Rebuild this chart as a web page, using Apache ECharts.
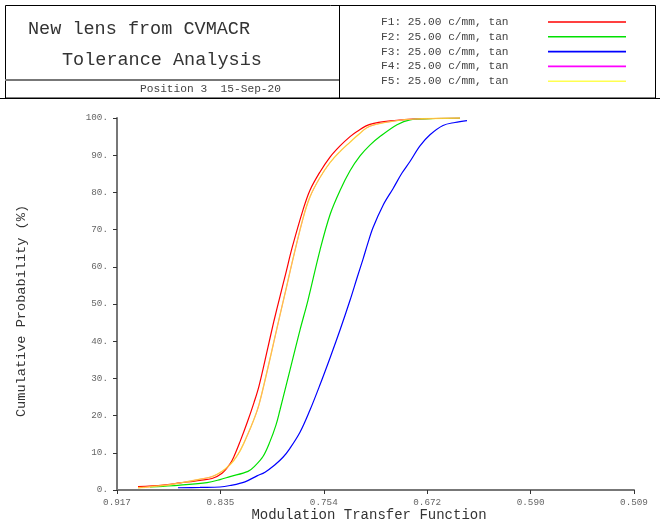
<!DOCTYPE html>
<html>
<head>
<meta charset="utf-8">
<script src="https://cdn.jsdelivr.net/npm/echarts@6/dist/echarts.min.js"></script>
<style>
html,body{margin:0;padding:0;background:#fff;}
#chart{width:660px;height:525px;}
</style>
</head>
<body>
<div id="chart"></div>
<script>
// ---- data (MTF value, cumulative probability %) ----
var seriesNames = ['F1: 25.00 c/mm, tan','F2: 25.00 c/mm, tan','F3: 25.00 c/mm, tan','F4: 25.00 c/mm, tan','F5: 25.00 c/mm, tan'];
var seriesColors = ['#ff0000','#00e000','#0000ff','#ff00ff','#ffff00'];

var f1 = [[0.9004,0.9],[0.8807,1.3],[0.8673,1.9],[0.8515,2.6],[0.8420,3.1],[0.8341,4.5],[0.8278,7.0],[0.8247,9.0],[0.8199,13],[0.8144,18],[0.8089,23.5],[0.8049,28],[0.7978,38.5],[0.7931,45.5],[0.7884,52],[0.7836,58.5],[0.7789,65],[0.7702,75.3],[0.7647,80.6],[0.7568,85.5],[0.7489,89.5],[0.7410,92.5],[0.7331,95],[0.7276,96.4],[0.7174,98.3],[0.6960,99.4],[0.6834,99.7],[0.6463,100]];
var f2 = [[0.8910,0.8],[0.8807,1.0],[0.8673,1.3],[0.8460,2.0],[0.8357,2.8],[0.8278,3.6],[0.8136,5.0],[0.8081,6.5],[0.8018,9.0],[0.7963,13],[0.7915,17.5],[0.7884,21.5],[0.7836,28],[0.7781,35.5],[0.7726,43],[0.7663,51],[0.7568,64.5],[0.7489,74],[0.7410,80.5],[0.7331,85.8],[0.7252,89.8],[0.7174,92.7],[0.7095,95],[0.6960,98.2],[0.6858,99.5],[0.6700,99.8],[0.6463,100]];
var f3 = [[0.8689,0.6],[0.8515,0.7],[0.8357,0.8],[0.8278,1.2],[0.8160,2.2],[0.8065,3.8],[0.8002,4.8],[0.7923,6.8],[0.7860,8.8],[0.7805,11.2],[0.7726,15.5],[0.7647,21.5],[0.7568,28.3],[0.7489,35.5],[0.7410,43],[0.7331,51],[0.7276,57],[0.7229,62],[0.7189,66.5],[0.7150,70.5],[0.7071,76.5],[0.6992,81],[0.6921,85.2],[0.6858,88.3],[0.6779,92.5],[0.6700,95.5],[0.6597,98],[0.6503,98.8],[0.6408,99.3]];
var f4 = [[0.9004,0.6],[0.8807,1.2],[0.8673,1.9],[0.8515,2.9],[0.8420,3.6],[0.8341,5.0],[0.8278,6.8],[0.8247,8.0],[0.8199,10.5],[0.8144,14.5],[0.8089,19],[0.8049,23],[0.7978,33],[0.7931,40],[0.7884,47],[0.7836,54],[0.7789,61],[0.7702,73],[0.7647,78.8],[0.7568,84],[0.7489,88],[0.7410,91],[0.7331,93.5],[0.7276,95.2],[0.7174,97.8],[0.6960,99.3],[0.6834,99.7],[0.6463,100]];
var f5 = [[0.9004,0.6],[0.8807,1.2],[0.8673,1.9],[0.8515,2.9],[0.8420,3.6],[0.8341,5.0],[0.8278,6.8],[0.8247,8.0],[0.8199,10.5],[0.8144,14.5],[0.8089,19],[0.8049,23],[0.7978,33],[0.7931,40],[0.7884,47],[0.7836,54],[0.7789,61],[0.7702,73],[0.7647,78.8],[0.7568,84],[0.7489,88],[0.7410,91],[0.7331,93.5],[0.7276,95.2],[0.7174,97.8],[0.6960,99.3],[0.6834,99.7],[0.6463,100]];

var xTickValues = [0.917,0.8354,0.7538,0.6722,0.5906,0.509];
var xTickLabels = ['0.917','0.835','0.754','0.672','0.590','0.509'];
var yTickLabels = ['0.','10.','20.','30.','40.','50.','60.','70.','80.','90.','100.'];

var titleLine1 = 'New lens from CVMACR';
var titleLine2 = 'Tolerance Analysis';
var subTitle = 'Position 3  15-Sep-20';
var xName = 'Modulation Transfer Function';
var yName = 'Cumulative Probability (%)';

var FONT = '"Liberation Mono","DejaVu Sans Mono",monospace';
var chart = echarts.init(document.getElementById('chart'), null, {renderer:'canvas'});

var allData = [f1,f2,f3,f4,f5];
var lineWidths = [1.2,1.2,1.2,1.0,1.4];
var lineOpac = [1,1,1,1,0.72];
var series = allData.map(function(d,i){
  return {
    name: seriesNames[i], type:'line', data:d, showSymbol:false, symbol:'none',
    smooth:0.35, animation:false,
    lineStyle:{color:seriesColors[i], width:lineWidths[i], opacity:lineOpac[i]},
    z: 2 + i
  };
});

var graphics = [
  {type:'rect', shape:{x:5.5,y:5.5,width:650,height:92.5}, style:{fill:null, stroke:'#000', lineWidth:1}, silent:true},
  {type:'line', shape:{x1:0,y1:98.5,x2:660,y2:98.5}, style:{stroke:'#000', lineWidth:1}, silent:true},
  {type:'line', shape:{x1:339.5,y1:5,x2:339.5,y2:98}, style:{stroke:'#000', lineWidth:1}, silent:true},
  {type:'line', shape:{x1:5,y1:80,x2:339,y2:80}, style:{stroke:'#777', lineWidth:2}, silent:true},
  {type:'text', x:28, y:29, style:{text:titleLine1, font:'18.5px '+FONT, fill:'#333', textVerticalAlign:'middle'}, silent:true},
  {type:'text', x:62, y:60, style:{text:titleLine2, font:'18.5px '+FONT, fill:'#333', textVerticalAlign:'middle'}, silent:true},
  {type:'text', x:140, y:89, style:{text:subTitle, font:'11.2px '+FONT, fill:'#444', textVerticalAlign:'middle'}, silent:true},
  {type:'text', x:369, y:515, style:{text:xName, font:'14px '+FONT, fill:'#333', textAlign:'center', textVerticalAlign:'middle'}, silent:true},
  {type:'text', x:21, y:311, rotation:Math.PI/2, style:{text:yName, font:'13.6px '+FONT, fill:'#333', textAlign:'center', textVerticalAlign:'middle'}, silent:true}
];
var legY = [22, 36.8, 51.6, 66.4, 81.2];
seriesNames.forEach(function(n,i){
  graphics.push({type:'text', x:381, y:legY[i], style:{text:n, font:'11.2px '+FONT, fill:'#444', textVerticalAlign:'middle'}, silent:true});
  graphics.push({type:'line', shape:{x1:548,y1:legY[i],x2:626,y2:legY[i]}, style:{stroke:(i===4?'#ffff50':seriesColors[i]), lineWidth:1.6}, silent:true});
});

var option = {
  animation:false,
  backgroundColor:'#fff',
  grid:{left:117, right:26, top:118, bottom:35, containLabel:false},
  xAxis:{
    type:'value', inverse:true, min:0.509, max:0.917, interval:0.0816,
    axisLine:{show:true, onZero:false, lineStyle:{color:'#777', width:2}},
    axisTick:{show:true, length:4, lineStyle:{color:'#333', width:1}},
    axisLabel:{fontFamily:FONT, fontSize:9.3, color:'#666', margin:8,
      formatter:function(v){
        for (var k=0;k<xTickValues.length;k++){ if (Math.abs(v-xTickValues[k])<0.002) return xTickLabels[k]; }
        return '';
      }},
    splitLine:{show:false}
  },
  yAxis:{
    type:'value', min:0, max:100, interval:10,
    axisLine:{show:true, lineStyle:{color:'#777', width:2}},
    axisTick:{show:true, length:4, lineStyle:{color:'#333', width:1}},
    axisLabel:{fontFamily:FONT, fontSize:9.3, color:'#666', margin:9,
      formatter:function(v){ return yTickLabels[Math.round(v/10)]; }},
    splitLine:{show:false}
  },
  series:series,
  graphic:graphics
};
chart.setOption(option);
</script>
</body>
</html>
